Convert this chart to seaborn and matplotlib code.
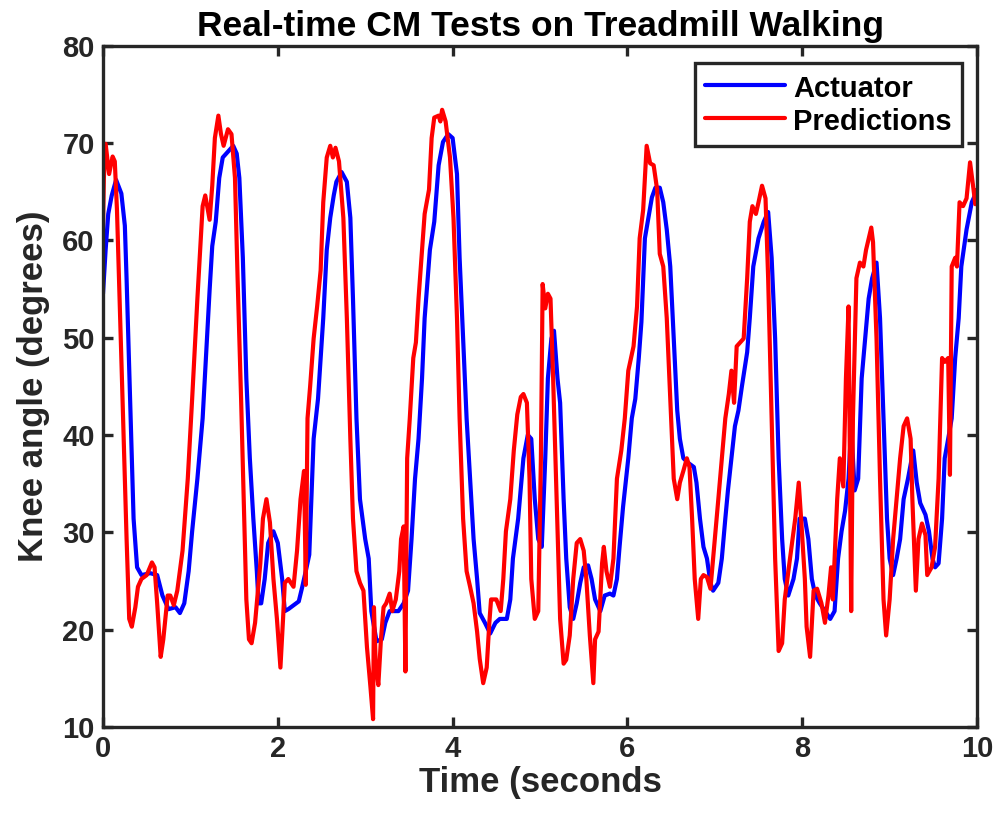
import numpy as np
import pandas as pd
import matplotlib
matplotlib.use("Agg")
import matplotlib.pyplot as plt
import seaborn as sns

# Actuator knee angle trace (time in s, angle in degrees)
actuator_t = [0.00, 0.03, 0.06, 0.10, 0.15, 0.21, 0.25, 0.27, 0.31, 0.35, 0.39, 0.44, 0.54, 0.62, 0.68,
              0.75, 0.83, 0.88, 0.93, 0.98, 1.02, 1.08, 1.14, 1.18, 1.22, 1.25, 1.29, 1.33, 1.37, 1.43,
              1.49, 1.53, 1.56, 1.60, 1.64, 1.68, 1.72, 1.76, 1.78, 1.81, 1.85, 1.89, 1.95, 2.00, 2.05,
              2.08, 2.12, 2.18, 2.24, 2.28, 2.32, 2.36, 2.41, 2.46, 2.52, 2.56, 2.60, 2.64, 2.67, 2.73,
              2.79, 2.83, 2.86, 2.90, 2.94, 3.00, 3.04, 3.07, 3.13, 3.19, 3.23, 3.28, 3.38, 3.44, 3.49,
              3.53, 3.57, 3.61, 3.65, 3.68, 3.74, 3.79, 3.84, 3.89, 3.95, 4.00, 4.05, 4.08, 4.12, 4.16,
              4.20, 4.24, 4.28, 4.31, 4.37, 4.43, 4.49, 4.54, 4.62, 4.66, 4.69, 4.75, 4.81, 4.86, 4.90,
              4.94, 4.98, 5.02, 5.06, 5.09, 5.13, 5.16, 5.20, 5.23, 5.27, 5.30, 5.34, 5.38, 5.42, 5.46,
              5.50, 5.55, 5.59, 5.63, 5.69, 5.74, 5.80, 5.84, 5.88, 5.91, 5.95, 6.01, 6.05, 6.09, 6.13,
              6.16, 6.20, 6.24, 6.28, 6.32, 6.37, 6.41, 6.45, 6.49, 6.53, 6.57, 6.60, 6.64, 6.70, 6.76,
              6.79, 6.83, 6.87, 6.91, 6.95, 6.98, 7.04, 7.08, 7.12, 7.15, 7.19, 7.23, 7.27, 7.31, 7.37,
              7.40, 7.44, 7.50, 7.56, 7.61, 7.65, 7.69, 7.73, 7.77, 7.80, 7.84, 7.90, 7.94, 7.97, 8.03,
              8.07, 8.11, 8.15, 8.20, 8.26, 8.32, 8.37, 8.41, 8.45, 8.49, 8.53, 8.56, 8.60, 8.64, 8.68,
              8.72, 8.76, 8.80, 8.85, 8.89, 8.93, 8.97, 9.00, 9.04, 9.08, 9.12, 9.16, 9.21, 9.27, 9.31,
              9.35, 9.41, 9.45, 9.49, 9.52, 9.56, 9.60, 9.63, 9.67, 9.71, 9.75, 9.79, 9.82, 9.88, 9.94,
              9.98]
actuator_deg = [54.5, 59.0, 62.7, 64.6, 66.2, 64.8, 61.5, 56.0, 43.7, 31.4, 26.4, 25.6, 25.8, 25.6, 23.5,
                22.1, 22.3, 21.7, 22.7, 26.0, 30.1, 35.5, 41.7, 48.3, 54.9, 59.4, 61.9, 66.4, 68.5, 69.1,
                69.7, 68.9, 66.4, 58.2, 45.8, 37.6, 31.4, 26.0, 22.7, 22.7, 25.2, 28.9, 30.1, 28.9, 25.2,
                21.9, 22.1, 22.5, 22.9, 24.4, 26.0, 27.7, 39.6, 43.7, 52.0, 59.0, 62.3, 64.6, 66.0, 67.0,
                66.0, 62.3, 54.0, 41.7, 33.4, 29.3, 27.3, 21.9, 18.8, 19.0, 20.7, 21.9, 21.9, 22.7, 24.0,
                29.3, 35.5, 39.6, 45.8, 52.0, 59.0, 61.9, 67.7, 70.1, 70.9, 70.5, 66.8, 58.2, 49.9, 41.7,
                35.5, 29.3, 25.2, 21.7, 20.7, 19.6, 20.7, 21.1, 21.1, 23.1, 27.3, 31.4, 37.6, 40.0, 39.6,
                33.4, 29.3, 28.5, 37.6, 45.8, 49.9, 50.7, 45.8, 43.3, 33.4, 27.3, 22.3, 21.1, 22.7, 24.8,
                26.4, 26.6, 25.2, 23.1, 21.9, 23.5, 23.7, 23.5, 25.2, 28.5, 32.6, 37.6, 41.7, 43.7, 47.9,
                51.6, 60.2, 62.3, 64.4, 65.4, 65.4, 63.9, 61.1, 57.3, 49.9, 42.5, 39.6, 37.6, 37.1, 36.7,
                35.1, 31.4, 28.5, 27.3, 24.8, 24.0, 24.8, 27.3, 31.4, 34.3, 37.6, 40.9, 42.5, 45.0, 48.5,
                52.0, 57.3, 60.2, 61.9, 62.9, 58.2, 49.9, 37.6, 29.3, 25.2, 23.5, 25.2, 27.3, 31.4, 31.4,
                29.3, 25.2, 23.5, 22.7, 21.9, 21.1, 21.9, 27.3, 30.1, 32.2, 35.5, 40.9, 34.3, 35.5, 45.8,
                49.9, 54.0, 56.1, 57.7, 52.0, 41.7, 31.4, 27.3, 25.6, 27.3, 29.3, 33.4, 35.5, 38.4, 35.1,
                33.0, 31.8, 30.1, 27.3, 26.4, 26.8, 31.4, 37.6, 39.6, 41.7, 47.9, 52.0, 57.3, 61.1, 63.9,
                64.7]

# Model predictions of the knee angle
pred_t = [0.00, 0.01, 0.03, 0.07, 0.11, 0.135, 0.16, 0.19, 0.23, 0.27, 0.30, 0.33, 0.37, 0.40, 0.44,
          0.50, 0.56, 0.59, 0.62, 0.66, 0.69, 0.74, 0.77, 0.81, 0.85, 0.91, 0.97, 1.02, 1.08, 1.14,
          1.17, 1.22, 1.25, 1.28, 1.32, 1.35, 1.38, 1.43, 1.47, 1.51, 1.54, 1.58, 1.61, 1.64, 1.67,
          1.70, 1.74, 1.80, 1.83, 1.87, 1.91, 1.95, 1.99, 2.03, 2.06, 2.08, 2.12, 2.18, 2.22, 2.26,
          2.30, 2.32, 2.34, 2.37, 2.41, 2.45, 2.49, 2.52, 2.56, 2.60, 2.63, 2.66, 2.70, 2.75, 2.79,
          2.83, 2.86, 2.90, 2.94, 2.98, 3.02, 3.06, 3.09, 3.10, 3.12, 3.15, 3.18, 3.21, 3.24, 3.28,
          3.31, 3.35, 3.39, 3.41, 3.44, 3.46, 3.48, 3.51, 3.55, 3.58, 3.61, 3.65, 3.68, 3.73, 3.76,
          3.79, 3.84, 3.86, 3.88, 3.92, 3.97, 4.01, 4.05, 4.08, 4.12, 4.16, 4.20, 4.24, 4.28, 4.31,
          4.35, 4.39, 4.42, 4.44, 4.50, 4.55, 4.58, 4.61, 4.66, 4.70, 4.74, 4.78, 4.81, 4.85, 4.88,
          4.90, 4.94, 4.98, 5.01, 5.03, 5.06, 5.09, 5.12, 5.15, 5.19, 5.23, 5.27, 5.30, 5.34, 5.38,
          5.42, 5.46, 5.50, 5.53, 5.57, 5.61, 5.63, 5.67, 5.71, 5.73, 5.76, 5.80, 5.84, 5.88, 5.93,
          5.97, 6.01, 6.07, 6.11, 6.14, 6.18, 6.22, 6.26, 6.30, 6.34, 6.37, 6.41, 6.45, 6.49, 6.53,
          6.57, 6.60, 6.64, 6.68, 6.71, 6.74, 6.77, 6.81, 6.84, 6.87, 6.91, 6.95, 7.00, 7.04, 7.08,
          7.12, 7.16, 7.19, 7.22, 7.25, 7.29, 7.33, 7.37, 7.40, 7.43, 7.47, 7.50, 7.54, 7.58, 7.61,
          7.65, 7.69, 7.73, 7.77, 7.80, 7.86, 7.92, 7.96, 7.99, 8.03, 8.05, 8.09, 8.13, 8.17, 8.22,
          8.26, 8.30, 8.33, 8.35, 8.40, 8.43, 8.47, 8.50, 8.53, 8.56, 8.58, 8.62, 8.66, 8.70, 8.73,
          8.79, 8.81, 8.85, 8.89, 8.93, 8.96, 9.00, 9.04, 9.08, 9.12, 9.16, 9.20, 9.24, 9.26, 9.30,
          9.33, 9.37, 9.41, 9.43, 9.48, 9.52, 9.56, 9.60, 9.63, 9.67, 9.69, 9.71, 9.75, 9.77, 9.80,
          9.84, 9.88, 9.92, 9.96, 9.98, 10.00]
pred_deg = [61.5, 66.4, 69.9, 66.8, 68.6, 68.1, 63.1, 54.0, 41.7, 29.3, 21.1, 20.3, 22.3, 24.4, 25.2,
            25.6, 26.9, 26.4, 22.7, 17.2, 19.0, 23.5, 23.5, 22.5, 24.0, 28.1, 35.5, 43.7, 54.0, 63.5,
            64.6, 62.1, 65.6, 70.5, 72.8, 70.9, 69.7, 71.4, 70.9, 66.4, 56.1, 43.7, 33.4, 23.1, 19.0,
            18.6, 20.7, 26.8, 31.4, 33.4, 31.0, 25.2, 21.1, 16.1, 21.1, 24.8, 25.2, 24.4, 28.1, 33.4,
            36.3, 24.6, 41.7, 45.0, 49.9, 53.2, 56.9, 63.9, 68.5, 69.7, 68.5, 69.5, 68.1, 62.3, 52.0,
            39.6, 31.4, 26.0, 24.8, 24.0, 18.2, 14.1, 10.8, 22.3, 16.5, 14.3, 19.0, 22.3, 22.7, 23.7,
            21.9, 23.1, 26.0, 29.3, 30.6, 15.7, 37.6, 41.7, 47.9, 49.5, 54.0, 59.0, 62.7, 65.2, 70.5,
            72.6, 72.8, 72.2, 73.4, 72.2, 68.5, 62.3, 52.0, 41.7, 31.4, 26.0, 24.4, 22.7, 19.8, 17.0,
            14.5, 16.1, 20.7, 23.1, 23.1, 21.9, 25.2, 30.1, 33.4, 38.4, 42.1, 43.9, 44.2, 43.3, 35.5,
            25.2, 21.1, 21.9, 37.6, 55.5, 53.0, 54.5, 54.0, 45.8, 33.4, 21.1, 16.5, 16.9, 19.4, 25.2,
            28.9, 29.3, 28.1, 25.2, 19.4, 14.5, 19.0, 19.8, 26.8, 28.5, 26.0, 24.4, 27.3, 35.5, 38.4,
            41.7, 46.6, 49.1, 53.2, 60.2, 63.1, 69.7, 67.9, 67.7, 65.2, 58.6, 57.3, 52.0, 43.7, 35.5,
            33.4, 35.1, 36.3, 37.6, 36.7, 31.4, 25.2, 21.1, 25.2, 25.6, 25.4, 24.2, 29.3, 33.4, 37.6,
            41.7, 44.2, 46.6, 43.3, 49.1, 49.5, 49.9, 56.1, 61.9, 63.5, 62.7, 63.9, 65.6, 64.3, 56.1,
            41.7, 27.3, 17.8, 18.6, 23.1, 27.3, 31.4, 35.1, 31.0, 25.2, 20.3, 17.2, 24.0, 24.2, 22.7,
            20.7, 23.5, 26.4, 23.1, 33.4, 37.6, 34.7, 45.8, 53.2, 21.9, 41.7, 56.1, 57.7, 57.3, 59.0,
            61.3, 59.8, 49.9, 35.5, 23.1, 19.4, 23.1, 29.3, 33.4, 37.6, 40.9, 41.7, 39.6, 33.4, 24.0,
            29.3, 30.9, 29.7, 25.6, 26.4, 28.5, 35.5, 47.9, 47.5, 47.9, 35.9, 57.3, 58.2, 57.3, 63.9,
            63.5, 64.3, 68.0, 65.2, 63.7, 65.2]

x_ticks = [0, 2, 4, 6, 8, 10]
y_ticks = [10, 20, 30, 40, 50, 60, 70, 80]

sns.set_theme(style="white")
plt.rcParams["font.family"] = ["Liberation Sans", "DejaVu Sans"]
plt.rcParams["font.weight"] = "bold"

dark = "#262626"
fig = plt.figure(figsize=(9.98, 8.31), dpi=100)
ax = fig.add_axes([0.1032, 0.1252, 0.8758, 0.8200])

act_df = pd.DataFrame({"t": actuator_t, "deg": actuator_deg})
pred_df = pd.DataFrame({"t": pred_t, "deg": pred_deg})

sns.lineplot(data=act_df, x="t", y="deg", ax=ax, color="#0000FF", linewidth=3.0,
             estimator=None, sort=False, label="Actuator")
sns.lineplot(data=pred_df, x="t", y="deg", ax=ax, color="#FF0000", linewidth=3.0,
             estimator=None, sort=False, label="Predictions")

ax.set_xlim(0, 10)
ax.set_ylim(10, 80)
ax.set_xticks(x_ticks)
ax.set_yticks(y_ticks)
ax.set_xticklabels([str(v) for v in x_ticks])
ax.set_yticklabels([str(v) for v in y_ticks])

for side in ["left", "right", "top", "bottom"]:
    ax.spines[side].set_visible(True)
    ax.spines[side].set_color(dark)
    ax.spines[side].set_linewidth(2.4)

ax.tick_params(axis="both", which="major", direction="in", length=7, width=2.4,
               color=dark, labelcolor=dark, labelsize=21, top=True, right=True,
               bottom=True, left=True, pad=6)
for lab in ax.get_xticklabels() + ax.get_yticklabels():
    lab.set_fontweight("bold")

ax.set_xlabel("Time (seconds", fontsize=25, fontweight="bold", color=dark, labelpad=2)
ax.set_ylabel("Knee angle (degrees)", fontsize=25, fontweight="bold", color=dark, labelpad=9)
ax.set_title("Real-time CM Tests on Treadmill Walking", fontsize=25.5, fontweight="bold",
             color="black", pad=7)

leg = ax.legend(loc="upper right", bbox_to_anchor=(0.9828, 0.9743), fontsize=21,
                frameon=True, fancybox=False, handlelength=2.74, handletextpad=0.27,
                handleheight=1.1, borderpad=0.35, labelspacing=0.1, borderaxespad=0)
leg.get_frame().set_edgecolor(dark)
leg.get_frame().set_linewidth(2.4)
leg.get_frame().set_facecolor("white")
leg.get_frame().set_alpha(1.0)
for txt in leg.get_texts():
    txt.set_fontweight("bold")
    txt.set_color("black")
for line in leg.get_lines():
    line.set_linewidth(3.0)

fig.savefig("out.png", dpi=100, facecolor="white")
